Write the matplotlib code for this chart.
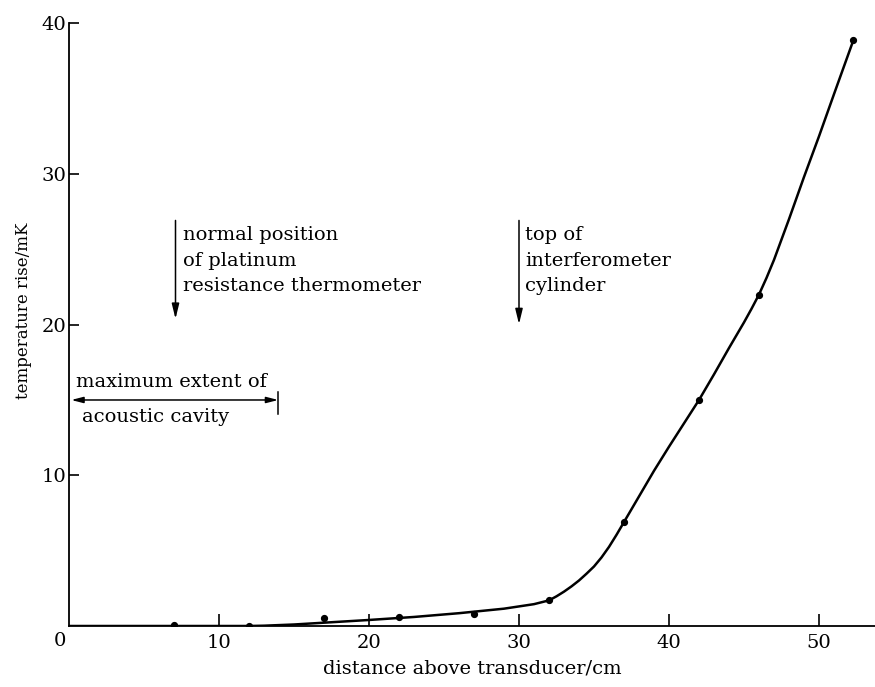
import matplotlib
matplotlib.use("Agg")
import matplotlib.pyplot as plt

# Measured temperature rise at each height above the transducer
distance_cm = [7, 12, 17, 22, 27, 32, 37, 42, 46, 52.3]
temp_rise_mK = [0.05, 0.0, 0.5, 0.6, 0.8, 1.7, 6.9, 15.0, 22.0, 38.9]

# Hand-fitted curve through the measurements
curve_x = [0, 7, 12, 13, 15, 17, 20, 23, 26, 29, 31, 32, 32.5, 33, 33.5, 34,
           34.5, 35, 35.5, 36, 36.5, 37, 37.5, 38, 39, 40, 41, 42, 43, 44, 45,
           45.5, 46, 46.5, 47, 48, 49, 50, 51, 52.3]
curve_y = [0, 0, 0, 0.02, 0.1, 0.22, 0.4, 0.6, 0.85, 1.15, 1.45, 1.7, 1.97,
           2.28, 2.63, 3.02, 3.47, 3.95, 4.55, 5.25, 6.05, 6.9, 7.75, 8.6,
           10.3, 11.9, 13.45, 15.0, 16.7, 18.45, 20.15, 21.05, 22.0, 23.1,
           24.3, 27.0, 29.8, 32.5, 35.3, 38.9]

xticks = [10, 20, 30, 40, 50]
yticks = [10, 20, 30, 40]

plt.rcParams["font.family"] = ["DejaVu Serif"]
TICK_FS = 14
NOTE_FS = 14

fig = plt.figure(figsize=(8.75, 6.87), dpi=100)
ax = fig.add_axes([69 / 875, 61 / 687, 1 - 69 / 875, 602.7 / 687])

ax.plot(curve_x, curve_y, color="black", lw=1.8, solid_capstyle="round",
        solid_joinstyle="round")
ax.plot(distance_cm, temp_rise_mK, "o", color="black", ms=4.2)

ax.set_xlim(0, (875 - 69) / 15.0)
ax.set_ylim(0, 40)
for s in ("top", "right"):
    ax.spines[s].set_visible(False)
for s in ("left", "bottom"):
    ax.spines[s].set_linewidth(1.3)

ax.set_xticks(xticks)
ax.set_yticks(yticks)
ax.tick_params(axis="x", direction="in", length=9, width=1.2, pad=6, labelsize=TICK_FS)
ax.tick_params(axis="y", direction="in", length=7, width=1.2, pad=2, labelsize=TICK_FS)
ax.annotate("0", xy=(0, 0), xytext=(-6.5, -10.5), textcoords="offset points",
            ha="center", va="center", fontsize=TICK_FS)

ax.set_xlabel("distance above transducer/cm", fontsize=14, labelpad=5)
ax.set_ylabel("temperature rise/mK", fontsize=12, va="center")
ax.yaxis.set_label_coords(-0.057, 0.523)

arrow_kw = dict(arrowstyle="-|>,head_length=0.9,head_width=0.22", color="black", lw=1.1)

# thermometer position
ax.annotate("", xy=(7.1, 20.2), xytext=(7.1, 27.1), arrowprops=arrow_kw)
ax.text(7.6, 26.55, "normal position\nof platinum\nresistance thermometer",
        fontsize=NOTE_FS, va="top", ha="left", linespacing=1.55)

# interferometer cylinder top
ax.annotate("", xy=(30.0, 19.85), xytext=(30.0, 27.1), arrowprops=arrow_kw)
ax.text(30.4, 26.55, "top of\ninterferometer\ncylinder",
        fontsize=NOTE_FS, va="top", ha="left", linespacing=1.55)

# acoustic cavity extent
dbl_kw = dict(arrowstyle="<|-|>,head_length=0.7,head_width=0.18", color="black", lw=1.1,
              shrinkA=0, shrinkB=0)
ax.annotate("", xy=(13.95, 15.0), xytext=(0.15, 15.0), arrowprops=dbl_kw)
ax.plot([13.95, 13.95], [14.1, 15.5], color="black", lw=1.1)
ax.text(0.5, 16.2, "maximum extent of", fontsize=NOTE_FS, va="center", ha="left")
ax.text(0.85, 13.9, "acoustic cavity", fontsize=NOTE_FS, va="center", ha="left")

fig.savefig("out.png", dpi=100)
